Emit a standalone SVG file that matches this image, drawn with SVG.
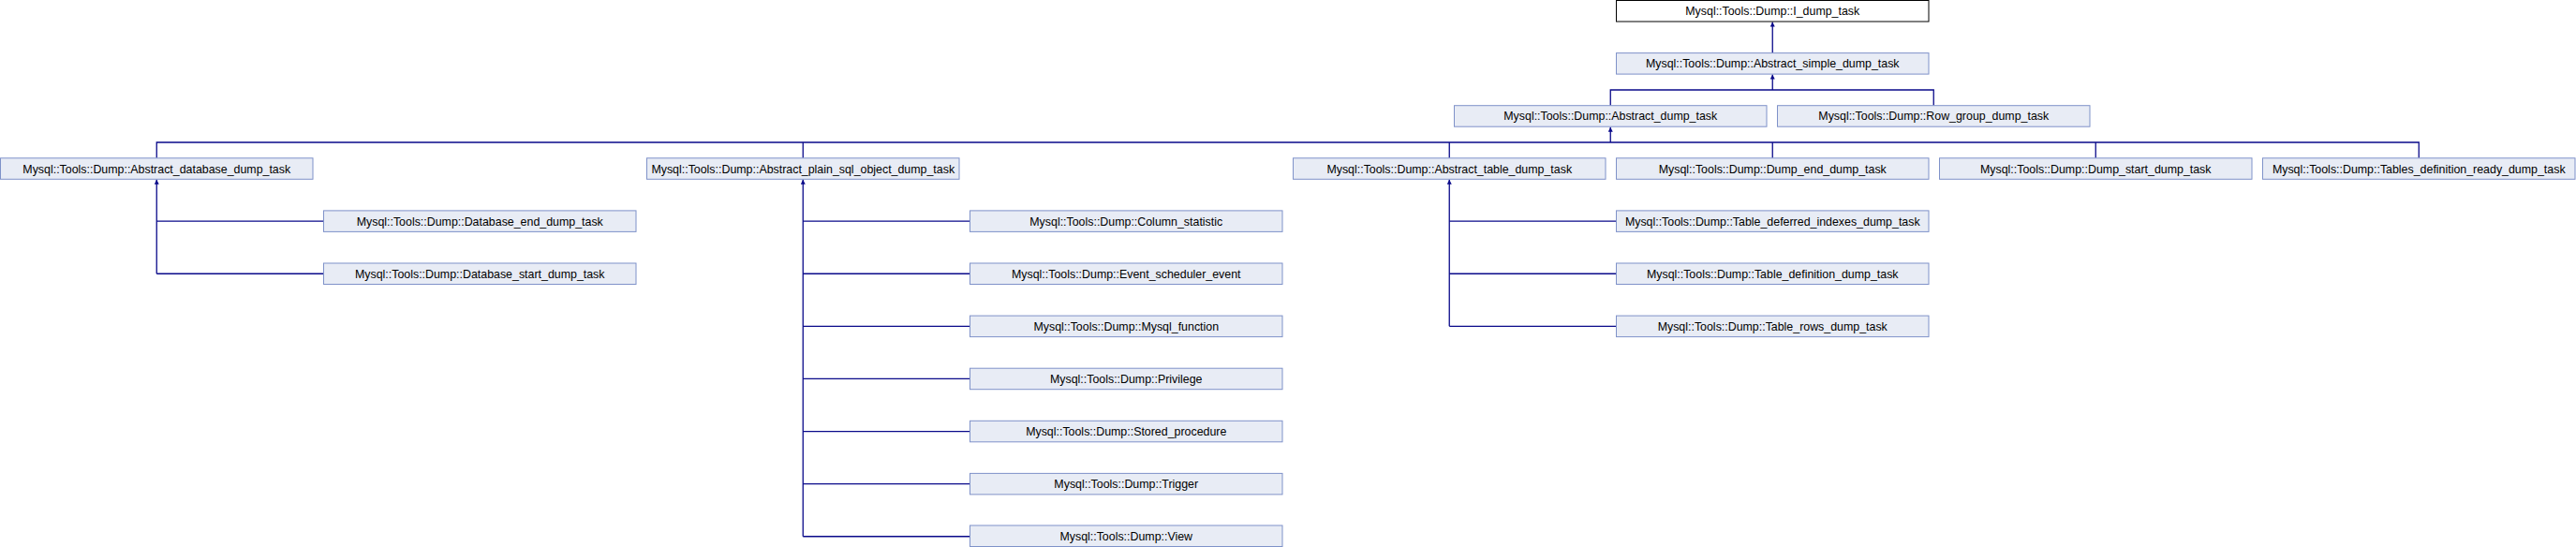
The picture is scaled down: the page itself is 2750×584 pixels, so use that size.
<svg xmlns="http://www.w3.org/2000/svg" width="2750" height="584" viewBox="0 0 2750 584">
<style>
.n rect{fill:#e8ecf5;stroke:#7f92c9;stroke-width:1}
.n text{font-family:"Liberation Sans",Arial,sans-serif;font-size:12.4px;fill:#000;text-anchor:middle}
#n_i_dump_task rect{fill:#ffffff;stroke:#000000}
.e path{fill:none;stroke:#0a0a8a;stroke-width:1.3}
</style>
<defs>
<marker id="arr" viewBox="0 0 5 5" refX="5" refY="2.5" markerWidth="5" markerHeight="5" markerUnits="userSpaceOnUse" orient="auto">
<path d="M0,0 L5,2.5 L0,5 z" fill="#0a0a8a"/>
</marker>
</defs>
<rect x="0" y="0" width="2750" height="584" fill="#ffffff"/>
<g class="e" id="connectors">
<path d="M1892.25,56.6 V23.5" marker-end="url(#arr)"/>
<path d="M1719.25,112.7 V96 H2064.25 V112.7"/>
<path d="M1892.25,96 V79.6" marker-end="url(#arr)"/>
<path d="M167.25,168.8 V152 H2582.25 V168.8"/>
<path d="M857.25,152 V168.8 M1547.25,152 V168.8 M1892.25,152 V168.8 M2237.25,152 V168.8"/>
<path d="M1719.25,152 V135.7" marker-end="url(#arr)"/>
<path d="M167.25,292.25 V191.8" marker-end="url(#arr)"/>
<path d="M167.25,236.15 H345.5 M167.25,292.25 H345.5"/>
<path d="M857.25,572.75 V191.8" marker-end="url(#arr)"/>
<path d="M857.25,236.15 H1035.5 M857.25,292.25 H1035.5 M857.25,348.35 H1035.5 M857.25,404.45 H1035.5 M857.25,460.55 H1035.5 M857.25,516.65 H1035.5 M857.25,572.75 H1035.5"/>
<path d="M1547.25,348.35 V191.8" marker-end="url(#arr)"/>
<path d="M1547.25,236.15 H1725.5 M1547.25,292.25 H1725.5 M1547.25,348.35 H1725.5"/>
</g>
<g class="n" id="n_i_dump_task"><rect x="1725.5" y="0.5" width="333.5" height="22.5"/><text x="1892.25" y="16.2">Mysql::Tools::Dump::I_dump_task</text></g>
<g class="n" id="n_abstract_simple_dump_task"><rect x="1725.5" y="56.6" width="333.5" height="22.5"/><text x="1892.25" y="72.3">Mysql::Tools::Dump::Abstract_simple_dump_task</text></g>
<g class="n" id="n_abstract_dump_task"><rect x="1552.5" y="112.7" width="333.5" height="22.5"/><text x="1719.25" y="128.4">Mysql::Tools::Dump::Abstract_dump_task</text></g>
<g class="n" id="n_row_group_dump_task"><rect x="1897.5" y="112.7" width="333.5" height="22.5"/><text x="2064.25" y="128.4">Mysql::Tools::Dump::Row_group_dump_task</text></g>
<g class="n" id="n_abstract_database_dump_task"><rect x="0.5" y="168.8" width="333.5" height="22.5"/><text x="167.25" y="184.5">Mysql::Tools::Dump::Abstract_database_dump_task</text></g>
<g class="n" id="n_abstract_plain_sql_object_dump_task"><rect x="690.5" y="168.8" width="333.5" height="22.5"/><text x="857.25" y="184.5">Mysql::Tools::Dump::Abstract_plain_sql_object_dump_task</text></g>
<g class="n" id="n_abstract_table_dump_task"><rect x="1380.5" y="168.8" width="333.5" height="22.5"/><text x="1547.25" y="184.5">Mysql::Tools::Dump::Abstract_table_dump_task</text></g>
<g class="n" id="n_dump_end_dump_task"><rect x="1725.5" y="168.8" width="333.5" height="22.5"/><text x="1892.25" y="184.5">Mysql::Tools::Dump::Dump_end_dump_task</text></g>
<g class="n" id="n_dump_start_dump_task"><rect x="2070.5" y="168.8" width="333.5" height="22.5"/><text x="2237.25" y="184.5">Mysql::Tools::Dump::Dump_start_dump_task</text></g>
<g class="n" id="n_tables_definition_ready_dump_task"><rect x="2415.5" y="168.8" width="333.5" height="22.5"/><text x="2582.25" y="184.5">Mysql::Tools::Dump::Tables_definition_ready_dump_task</text></g>
<g class="n" id="n_database_end_dump_task"><rect x="345.5" y="224.9" width="333.5" height="22.5"/><text x="512.25" y="240.6">Mysql::Tools::Dump::Database_end_dump_task</text></g>
<g class="n" id="n_database_start_dump_task"><rect x="345.5" y="281" width="333.5" height="22.5"/><text x="512.25" y="296.7">Mysql::Tools::Dump::Database_start_dump_task</text></g>
<g class="n" id="n_column_statistic"><rect x="1035.5" y="224.9" width="333.5" height="22.5"/><text x="1202.25" y="240.6">Mysql::Tools::Dump::Column_statistic</text></g>
<g class="n" id="n_event_scheduler_event"><rect x="1035.5" y="281" width="333.5" height="22.5"/><text x="1202.25" y="296.7">Mysql::Tools::Dump::Event_scheduler_event</text></g>
<g class="n" id="n_mysql_function"><rect x="1035.5" y="337.1" width="333.5" height="22.5"/><text x="1202.25" y="352.8">Mysql::Tools::Dump::Mysql_function</text></g>
<g class="n" id="n_privilege"><rect x="1035.5" y="393.2" width="333.5" height="22.5"/><text x="1202.25" y="408.9">Mysql::Tools::Dump::Privilege</text></g>
<g class="n" id="n_stored_procedure"><rect x="1035.5" y="449.3" width="333.5" height="22.5"/><text x="1202.25" y="465">Mysql::Tools::Dump::Stored_procedure</text></g>
<g class="n" id="n_trigger"><rect x="1035.5" y="505.4" width="333.5" height="22.5"/><text x="1202.25" y="521.1">Mysql::Tools::Dump::Trigger</text></g>
<g class="n" id="n_view"><rect x="1035.5" y="561" width="333.5" height="22.5"/><text x="1202.25" y="576.7">Mysql::Tools::Dump::View</text></g>
<g class="n" id="n_table_deferred_indexes_dump_task"><rect x="1725.5" y="224.9" width="333.5" height="22.5"/><text x="1892.25" y="240.6">Mysql::Tools::Dump::Table_deferred_indexes_dump_task</text></g>
<g class="n" id="n_table_definition_dump_task"><rect x="1725.5" y="281" width="333.5" height="22.5"/><text x="1892.25" y="296.7">Mysql::Tools::Dump::Table_definition_dump_task</text></g>
<g class="n" id="n_table_rows_dump_task"><rect x="1725.5" y="337.1" width="333.5" height="22.5"/><text x="1892.25" y="352.8">Mysql::Tools::Dump::Table_rows_dump_task</text></g>
</svg>
